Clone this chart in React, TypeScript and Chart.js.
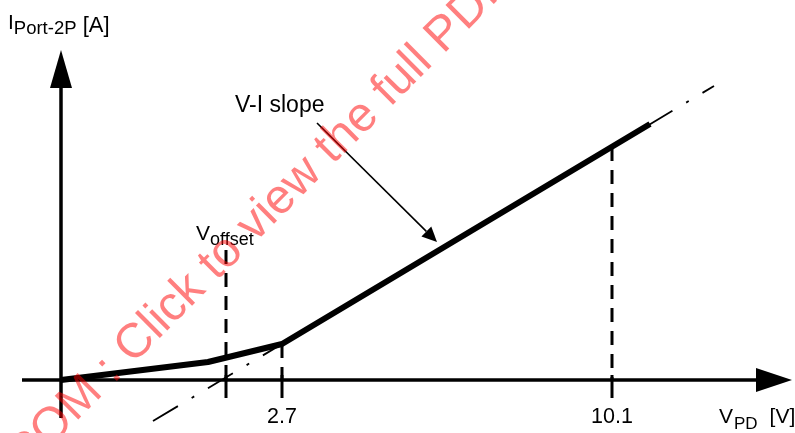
import React, { useEffect, useRef } from "react";
import { Chart, registerables } from "chart.js";

Chart.register(...registerables);

// Schematic units: 1 unit = 10 px, origin where the two axes cross
const curveX = [0, 14.7, 22.1, 58.9];
const curveY = [0, 1.8, 3.6, 25.6];
const slopeLineX = [9.2, 65.3];
const slopeLineY = [-4.1, 29.4];
const guideX = [16.5, 22.1, 55.1];
const guideTop = [13.0, 3.6, 23.3];
const tickLabels = ["", "2.7", "10.1"];
const tickBottom = -1.8;
const xAxisSpan = [-3.9, 73.1];
const yAxisSpan = [-3.8, 33.0];
const slopeArrowX = [25.6, 37.6];
const slopeArrowY = [25.7, 13.8];

const FONT = '"Liberation Sans", Arial, Helvetica, sans-serif';

function pts(xs: number[], ys: number[]) {
  return xs.map((x, i) => ({ x, y: ys[i] }));
}

function drawPieces(
  ctx: CanvasRenderingContext2D,
  x: number,
  pieces: { t: string; size: number; y: number; gap?: number }[]
) {
  let cx = x;
  for (const p of pieces) {
    cx += p.gap || 0;
    ctx.font = `${p.size}px ${FONT}`;
    ctx.fillText(p.t, cx, p.y);
    cx += ctx.measureText(p.t).width;
  }
}

const diagramPlugin = {
  id: "diagram",
  beforeDatasetsDraw(chart: any) {
    const ctx: CanvasRenderingContext2D = chart.ctx;
    const xs = chart.scales.x;
    const ys = chart.scales.y;
    const x0 = xs.getPixelForValue(0);
    const y0 = ys.getPixelForValue(0);
    ctx.save();
    ctx.strokeStyle = "#000";
    ctx.fillStyle = "#000";
    ctx.lineWidth = 3.5;
    ctx.lineCap = "butt";
    // x axis
    const xa = xs.getPixelForValue(xAxisSpan[0]);
    const xb = xs.getPixelForValue(xAxisSpan[1]);
    ctx.beginPath();
    ctx.moveTo(xa, y0);
    ctx.lineTo(xb - 30, y0);
    ctx.stroke();
    ctx.beginPath();
    ctx.moveTo(xb, y0);
    ctx.lineTo(xb - 36, y0 - 12);
    ctx.lineTo(xb - 36, y0 + 12);
    ctx.closePath();
    ctx.fill();
    // y axis
    const ya = ys.getPixelForValue(yAxisSpan[0]);
    const yb = ys.getPixelForValue(yAxisSpan[1]);
    ctx.beginPath();
    ctx.moveTo(x0, ya);
    ctx.lineTo(x0, yb + 30);
    ctx.stroke();
    ctx.beginPath();
    ctx.moveTo(x0, yb);
    ctx.lineTo(x0 - 11, yb + 38);
    ctx.lineTo(x0 + 11, yb + 38);
    ctx.closePath();
    ctx.fill();
    // tick marks
    ctx.lineWidth = 3;
    guideX.forEach((gx) => {
      const px = xs.getPixelForValue(gx);
      ctx.beginPath();
      ctx.moveTo(px, ys.getPixelForValue(0.5));
      ctx.lineTo(px, ys.getPixelForValue(tickBottom));
      ctx.stroke();
    });
    ctx.restore();
  },
  afterDatasetsDraw(chart: any) {
    const ctx: CanvasRenderingContext2D = chart.ctx;
    const xs = chart.scales.x;
    const ys = chart.scales.y;
    ctx.save();
    ctx.fillStyle = "#000";
    ctx.strokeStyle = "#000";
    ctx.textBaseline = "alphabetic";

    // annotation arrow
    const ax1 = xs.getPixelForValue(slopeArrowX[0]);
    const ay1 = ys.getPixelForValue(slopeArrowY[0]);
    const ax2 = xs.getPixelForValue(slopeArrowX[1]);
    const ay2 = ys.getPixelForValue(slopeArrowY[1]);
    const ang = Math.atan2(ay2 - ay1, ax2 - ax1);
    const hl = 15,
      hw = 7;
    const bx = ax2 - hl * Math.cos(ang);
    const by = ay2 - hl * Math.sin(ang);
    ctx.lineWidth = 1.6;
    ctx.beginPath();
    ctx.moveTo(ax1, ay1);
    ctx.lineTo(bx, by);
    ctx.stroke();
    ctx.beginPath();
    ctx.moveTo(ax2, ay2);
    ctx.lineTo(bx + hw * Math.sin(ang), by - hw * Math.cos(ang));
    ctx.lineTo(bx - hw * Math.sin(ang), by + hw * Math.cos(ang));
    ctx.closePath();
    ctx.fill();

    // tick labels
    ctx.textAlign = "center";
    ctx.font = `21.5px ${FONT}`;
    guideX.forEach((gx, i) => {
      if (tickLabels[i]) ctx.fillText(tickLabels[i], xs.getPixelForValue(gx), 423);
    });
    ctx.textAlign = "left";

    // V-I slope label
    ctx.font = `23px ${FONT}`;
    ctx.fillText("V-I slope", 235, 112);

    // V offset label
    drawPieces(ctx, 196, [
      { t: "V", size: 21, y: 240 },
      { t: "offset", size: 18, y: 245 },
    ]);

    // y axis title
    drawPieces(ctx, 8, [
      { t: "I", size: 21, y: 29 },
      { t: "Port-2P", size: 18.5, y: 34 },
      { t: " [A]", size: 22, y: 32 },
    ]);

    // x axis title
    drawPieces(ctx, 719, [
      { t: "V", size: 21, y: 423 },
      { t: "PD", size: 17, y: 429, gap: 1 },
      { t: "[V]", size: 21, y: 423, gap: 12 },
    ]);

    // watermark
    ctx.translate(24.1, 473.7);
    ctx.rotate(-Math.PI / 4);
    ctx.font = `48.5px ${FONT}`;
    ctx.fillStyle = "rgba(255,0,0,0.5)";
    ctx.fillText("COM : Click to view the full PDF", 0, 0);
    ctx.restore();
  },
};

export default function App() {
  const ref = useRef<HTMLCanvasElement>(null);
  useEffect(() => {
    document.body.style.margin = "0";
    const canvas = ref.current!;
    const datasets: any[] = [
      {
        label: "curve",
        data: pts(curveX, curveY),
        showLine: true,
        borderColor: "#000",
        borderWidth: 6,
        borderCapStyle: "butt",
        borderJoinStyle: "round",
        pointRadius: 0,
        order: 0,
      },
      {
        label: "slope",
        data: pts(slopeLineX, slopeLineY),
        showLine: true,
        borderColor: "#000",
        borderWidth: 1.8,
        borderDash: [29, 16, 3, 16],
        borderCapStyle: "butt",
        pointRadius: 0,
        order: 2,
      },
      ...guideX.map((gx, i) => ({
        label: "guide" + i,
        data: [
          { x: gx, y: guideTop[i] },
          { x: gx, y: 0 },
        ],
        showLine: true,
        borderColor: "#000",
        borderWidth: 3,
        borderDash: [14, 9],
        borderCapStyle: "butt",
        pointRadius: 0,
        order: 1,
      })),
    ];
    const chart = new Chart(canvas, {
      type: "scatter",
      data: { datasets },
      options: {
        animation: false,
        responsive: false,
        devicePixelRatio: 1,
        layout: { padding: 0 },
        plugins: {
          legend: { display: false },
          tooltip: { enabled: false },
        },
        events: [],
        scales: {
          x: { type: "linear", min: -6.1, max: 73.4, display: false },
          y: { type: "linear", min: -5.3, max: 38.0, display: false },
        },
      },
      plugins: [diagramPlugin],
    });
    return () => chart.destroy();
  }, []);
  return (
    <div style={{ width: 795, height: 433, background: "#fff" }}>
      <canvas ref={ref} width={795} height={433} style={{ display: "block" }} />
    </div>
  );
}
